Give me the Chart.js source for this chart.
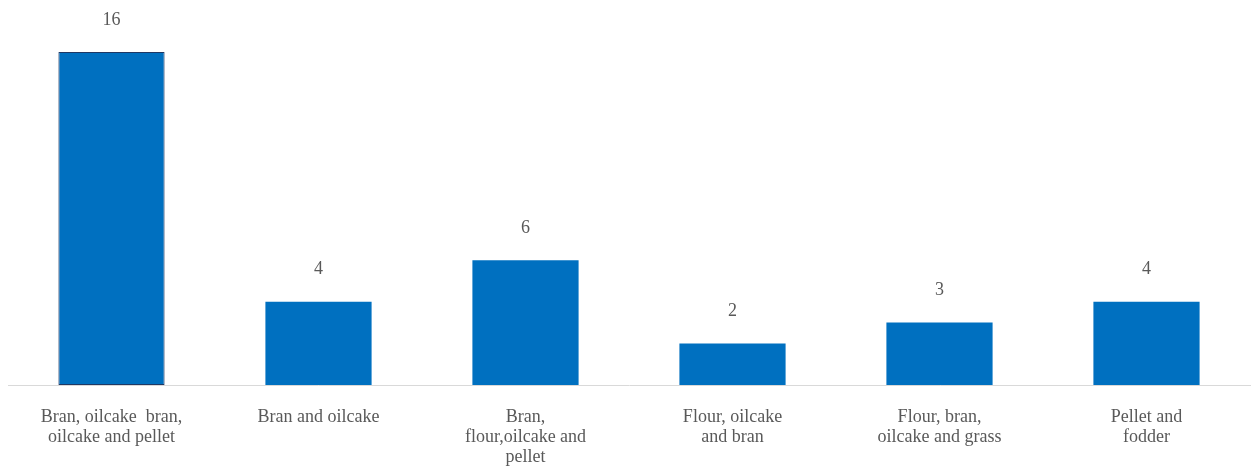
<!DOCTYPE html>
<html>
<head>
<meta charset="utf-8">
<script src="https://cdn.jsdelivr.net/npm/chart.js@4/dist/chart.umd.min.js"></script>
<style>
    html, body { margin: 0; padding: 0; background: #fff; }
    #wrap { width: 1252px; height: 470px; }
</style>
</head>
<body>
<div id="wrap"><canvas id="chart"></canvas></div>
<script>
const categories = [
    ["Bran, oilcake  bran,", "oilcake and pellet"],
    ["Bran and oilcake"],
    ["Bran,", "flour,oilcake and", "pellet"],
    ["Flour, oilcake", "and bran"],
    ["Flour, bran,", "oilcake and grass"],
    ["Pellet and", "fodder"]
];
const counts = [16, 4, 6, 2, 3, 4];

const BAR_COLOR = "#0070c0";
const TEXT_COLOR = "#595959";
const SERIF = "'Liberation Serif', 'Times New Roman', serif";

// value labels above each bar
const valueLabels = {
    id: "valueLabels",
    afterDatasetsDraw(chart) {
        const ctx = chart.ctx;
        const meta = chart.getDatasetMeta(0);
        ctx.save();
        ctx.font = "18px " + SERIF;
        ctx.fillStyle = TEXT_COLOR;
        ctx.textAlign = "center";
        ctx.textBaseline = "middle";
        meta.data.forEach((bar, i) => {
            ctx.fillText(String(counts[i]), bar.x, bar.y - 32);
        });
        ctx.restore();
    }
};

new Chart(document.getElementById("chart"), {
    type: "bar",
    data: {
        labels: categories,
        datasets: [{
            data: counts,
            backgroundColor: BAR_COLOR,
            borderColor: counts.map((v, i) => i === 0 ? "#1f3864" : BAR_COLOR),
            borderWidth: counts.map((v, i) => i === 0 ? 1 : 0),
            borderSkipped: false,
            categoryPercentage: 1,
            barPercentage: 0.513
        }]
    },
    options: {
        responsive: true,
        maintainAspectRatio: false,
        animation: false,
        layout: {
            padding: { top: 52, left: 8, right: 2, bottom: 0 }
        },
        plugins: {
            legend: { display: false },
            tooltip: { enabled: false }
        },
        scales: {
            x: {
                grid: { display: false, drawTicks: false },
                border: { display: true, color: "#d9d9d9", width: 1 },
                ticks: {
                    color: TEXT_COLOR,
                    font: { family: SERIF, size: 18, lineHeight: "20px" },
                    padding: 22,
                    maxRotation: 0,
                    autoSkip: false
                },
                afterFit(scale) {
                    scale.height = 85;
                }
            },
            y: {
                display: false,
                min: 0,
                max: 16
            }
        }
    },
    plugins: [valueLabels]
});
</script>
</body>
</html>
